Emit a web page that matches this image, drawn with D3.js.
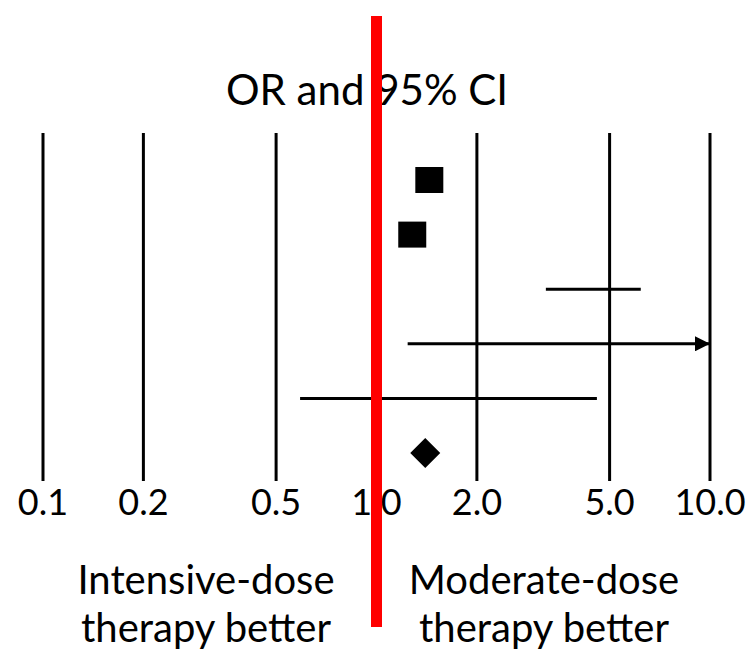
<!DOCTYPE html>
<html>
<head>
<meta charset="utf-8">
<script src="https://cdnjs.cloudflare.com/ajax/libs/d3/7.8.5/d3.min.js"></script>
<style>
  body { margin: 0; background: #fff; }
  text { font-family: Lato, "Open Sans", sans-serif; fill: #000; }
</style>
</head>
<body>
<svg width="753" height="659"></svg>
<script>
// forest plot values (odds ratios)
var ticks = [0.1, 0.2, 0.5, 1, 2, 5, 10];
var tickLabels = ["0.1", "0.2", "0.5", "1.0", "2.0", "5.0", "10.0"];
var rows = [0, 1, 2, 3, 4, 5];
var pointOR = [1.44, 1.28, null, null, null, 1.40];
var pointShape = ["square", "square", null, null, null, "diamond"];
var ciLow = [null, null, 3.22, 1.24, 0.59, null];
var ciHigh = [null, null, 6.2, 10, 4.58, null];
var ciArrow = [false, false, false, true, false, false];

var svg = d3.select("svg"),
	width = +svg.attr("width"),
	height = +svg.attr("height");

var x = d3.scaleLog().domain([0.1, 10]).range([43, 710]);
var y = d3.scalePoint().domain(rows).range([180, 453]);

svg.append("defs").append("marker")
	.attr("id", "arrow")
	.attr("viewBox", "0 0 10 10")
	.attr("refX", 10).attr("refY", 5)
	.attr("markerWidth", 6).attr("markerHeight", 5)
	.attr("markerUnits", "strokeWidth")
	.attr("orient", "auto")
	.append("path").attr("d", "M0,0L10,5L0,10Z").attr("fill", "#000");

// vertical reference lines
svg.append("g").selectAll("line")
	.data(ticks.filter(function(d) { return d != 1; }))
	.enter().append("line")
	.attr("x1", function(d) { return x(d); })
	.attr("x2", function(d) { return x(d); })
	.attr("y1", 133).attr("y2", 481)
	.attr("stroke", "#000").attr("stroke-width", 3);

// tick labels
svg.append("g").selectAll("text")
	.data(ticks)
	.enter().append("text")
	.attr("x", function(d) { return x(d); })
	.attr("y", 515)
	.attr("text-anchor", "middle")
	.style("font-size", "36px")
	.text(function(d, i) { return tickLabels[i]; });

// confidence intervals
var ci = rows.filter(function(i) { return ciLow[i] != null; });
svg.append("g").selectAll("line")
	.data(ci)
	.enter().append("line")
	.attr("x1", function(i) { return x(ciLow[i]); })
	.attr("x2", function(i) { return x(ciHigh[i]); })
	.attr("y1", function(i) { return y(i); })
	.attr("y2", function(i) { return y(i); })
	.attr("stroke", "#000").attr("stroke-width", 3)
	.attr("marker-end", function(i) { return ciArrow[i] ? "url(#arrow)" : null; });

// point estimates
var pts = rows.filter(function(i) { return pointOR[i] != null; });
svg.append("g").selectAll("path")
	.data(pts)
	.enter().append("path")
	.attr("transform", function(i) { return "translate(" + x(pointOR[i]) + "," + y(i) + ")"; })
	.attr("d", function(i) {
		return pointShape[i] == "square" ? "M-14,-13H14V13H-14Z" : "M0,-15L15,0L0,15L-15,0Z";
	})
	.attr("fill", "#000");

// title
svg.append("text")
	.attr("x", 367).attr("y", 105)
	.attr("text-anchor", "middle")
	.style("font-size", "42px")
	.text("OR and 95% CI");

// red line of no effect
svg.append("line")
	.attr("x1", x(1)).attr("x2", x(1))
	.attr("y1", 16).attr("y2", 627)
	.attr("stroke", "#f00").attr("stroke-width", 11);

// side labels
var sideLeft = ["Intensive-dose", "therapy better"];
var sideRight = ["Moderate-dose", "therapy better"];
[[sideLeft, 206], [sideRight, 544]].forEach(function(s) {
	svg.append("g").selectAll("text")
		.data(s[0])
		.enter().append("text")
		.attr("x", s[1])
		.attr("y", function(d, i) { return 594 + i * 48; })
		.attr("text-anchor", "middle")
		.style("font-size", "40px")
		.text(function(d) { return d; });
});
</script>
</body>
</html>
